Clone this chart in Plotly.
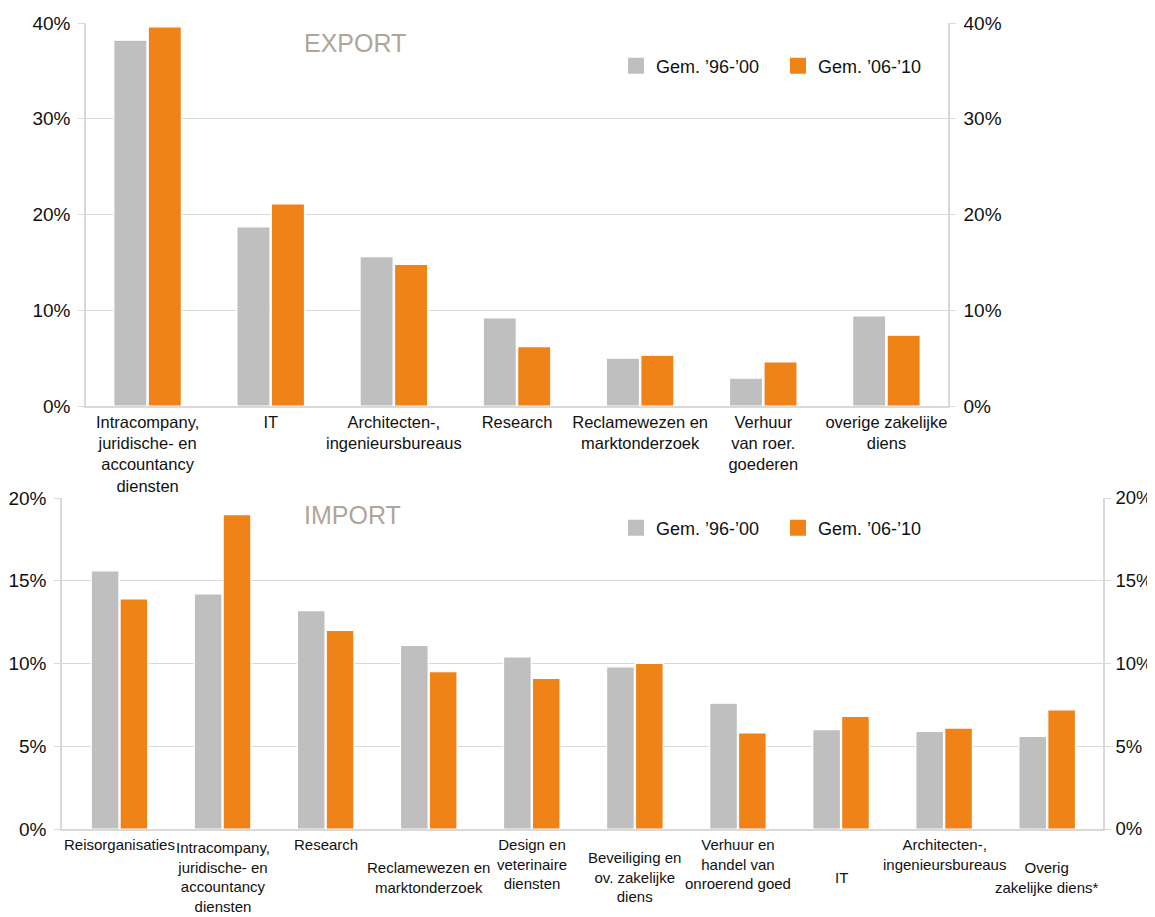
import plotly.graph_objects as go

# ---------------- data ----------------
export_categories = [
    "Intracompany,<br>juridische- en<br>accountancy<br>diensten",
    "IT",
    "Architecten-,<br>ingenieursbureaus",
    "Research",
    "Reclamewezen en<br>marktonderzoek",
    "Verhuur<br>van roer.<br>goederen",
    "overige zakelijke<br>diens",
]
export_9600 = [38.2, 18.7, 15.6, 9.2, 5.0, 2.9, 9.4]
export_0610 = [39.6, 21.1, 14.8, 6.2, 5.3, 4.6, 7.4]

import_categories = [
    "Reisorganisaties",
    "Intracompany,<br>juridische- en<br>accountancy<br>diensten",
    "Research",
    "Reclamewezen en<br>marktonderzoek",
    "Design en<br>veterinaire<br>diensten",
    "Beveiliging en<br>ov. zakelijke<br>diens",
    "Verhuur en<br>handel van<br>onroerend goed",
    "IT",
    "Architecten-,<br>ingenieursbureaus",
    "Overig<br>zakelijke diens*",
]
import_9600 = [15.6, 14.2, 13.2, 11.1, 10.4, 9.8, 7.6, 6.0, 5.9, 5.6]
import_0610 = [13.9, 19.0, 12.0, 9.5, 9.1, 10.0, 5.8, 6.8, 6.1, 7.2]

series_names = ["Gem. ’96-’00", "Gem. ’06-’10"]
series_colors = ["#bfbfbf", "#ef8317"]

export_ticks = [0, 10, 20, 30, 40]
import_ticks = [0, 5, 10, 15, 20]

# ---------------- figure ----------------
# the page body has an 8px margin, so the figure is drawn 8px smaller
# and all screen positions are shifted by that offset
OFF = 8
W, H = 1155 - OFF, 917 - OFF
FONT = "Liberation Sans, Arial, sans-serif"
GRID = "#d9d9d9"
TXT = "#111111"

fig = go.Figure()

for name, col, vals in zip(series_names, series_colors, [export_9600, export_0610]):
    fig.add_trace(go.Bar(
        x=export_categories, y=vals, name=name,
        marker=dict(color=col, line=dict(color="white", width=1.2)),
        xaxis="x", yaxis="y", showlegend=False, offsetgroup=name,
    ))
for name, col, vals in zip(series_names, series_colors, [import_9600, import_0610]):
    fig.add_trace(go.Bar(
        x=import_categories, y=vals, name=name,
        marker=dict(color=col, line=dict(color="white", width=1.2)),
        xaxis="x2", yaxis="y2", showlegend=False, offsetgroup=name,
    ))

# legend entries (square swatches) for both panels
for lg, xa, ya in [("legend", "x", "y"), ("legend2", "x2", "y2")]:
    for name, col in zip(series_names, series_colors):
        fig.add_trace(go.Scatter(
            x=[None], y=[None], mode="markers", name=name,
            marker=dict(symbol="square", size=19, color=col),
            xaxis=xa, yaxis=ya, legend=lg, showlegend=True, hoverinfo="skip",
        ))

# invisible helpers so the right-hand axes are drawn
fig.add_trace(go.Scatter(x=export_categories, y=export_9600, mode="markers", marker=dict(opacity=0),
                         xaxis="x", yaxis="y3", showlegend=False, hoverinfo="skip"))
fig.add_trace(go.Scatter(x=import_categories, y=import_9600, mode="markers", marker=dict(opacity=0),
                         xaxis="x2", yaxis="y4", showlegend=False, hoverinfo="skip"))


def px_x(p):
    return (p - OFF) / W


def px_y(p):
    return 1 - (p - OFF) / H


top_dom_x = [px_x(86), px_x(948)]
top_dom_y = [px_y(406), px_y(23)]
bot_dom_x = [px_x(62), px_x(1103)]
bot_dom_y = [px_y(829), px_y(498)]

yax_common = dict(
    showgrid=True, gridcolor=GRID, gridwidth=1,
    showline=True, linecolor=GRID, linewidth=1.5,
    ticks="outside", ticklen=6, tickcolor=GRID,
    tickfont=dict(size=19, color=TXT, family=FONT),
    zeroline=False, fixedrange=True, ticklabelstandoff=4, automargin=False,
)

legend_common = dict(
    orientation="h", xanchor="left", yanchor="middle",
    font=dict(size=18, color=TXT, family=FONT), bgcolor="rgba(0,0,0,0)",
    itemwidth=30, tracegroupgap=0, entrywidth=117, entrywidthmode="pixels",
    itemsizing="trace",
)

fig.update_layout(
    width=W, height=H,
    margin=dict(l=0, r=0, t=0, b=0, autoexpand=False),
    paper_bgcolor="white", plot_bgcolor="white",
    font=dict(family=FONT, color=TXT),
    barmode="group", bargap=0.44, bargroupgap=0.04,
    xaxis=dict(domain=top_dom_x, anchor="y", showline=True, linecolor=GRID, linewidth=1.5,
               ticks="", tickfont=dict(size=16.5, color=TXT, family=FONT), fixedrange=True,
               automargin=False),
    yaxis=dict(domain=top_dom_y, anchor="x", range=[0, 40], tickvals=export_ticks,
               ticktext=[f"{v}%" for v in export_ticks], **yax_common),
    yaxis3=dict(overlaying="y", side="right", anchor="x", range=[0, 40], tickvals=export_ticks,
                ticktext=[f"{v}%" for v in export_ticks], **{**yax_common, "showgrid": False}),
    xaxis2=dict(domain=bot_dom_x, anchor="y2", showline=True, linecolor=GRID, linewidth=1.5,
                ticks="", showticklabels=False, fixedrange=True, automargin=False),
    yaxis2=dict(domain=bot_dom_y, anchor="x2", range=[0, 20], tickvals=import_ticks,
                ticktext=[f"{v}%" for v in import_ticks], **yax_common),
    yaxis4=dict(overlaying="y2", side="right", anchor="x2", range=[0, 20], tickvals=import_ticks,
                ticktext=[f"{v}%" for v in import_ticks],
                **{**yax_common, "showgrid": False, "ticklabelstandoff": 1,
                   "tickfont": dict(size=18.5, color=TXT, family=FONT)}),
    legend=dict(x=px_x(616), y=px_y(66), **legend_common),
    legend2=dict(x=px_x(616), y=px_y(528), **legend_common),
)

annotations = [
    dict(text="EXPORT", x=px_x(302), y=px_y(43), xref="paper", yref="paper", xanchor="left",
         yanchor="middle", showarrow=False, font=dict(size=25, color="#b0a597", family=FONT)),
    dict(text="IMPORT", x=px_x(302), y=px_y(515), xref="paper", yref="paper", xanchor="left",
         yanchor="middle", showarrow=False, font=dict(size=25, color="#b0a597", family=FONT)),
]
# staggered category labels of the import chart
for i, lab in enumerate(import_categories):
    upper = (i % 2 == 0)
    annotations.append(dict(
        text=lab, x=lab, xref="x2", y=px_y(834) if upper else px_y(877), yref="paper",
        xanchor="center", yanchor="top" if upper else "middle", showarrow=False,
        align="center", font=dict(size=15, color=TXT, family=FONT),
    ))
fig.update_layout(annotations=annotations)

fig.write_html("out.html")
